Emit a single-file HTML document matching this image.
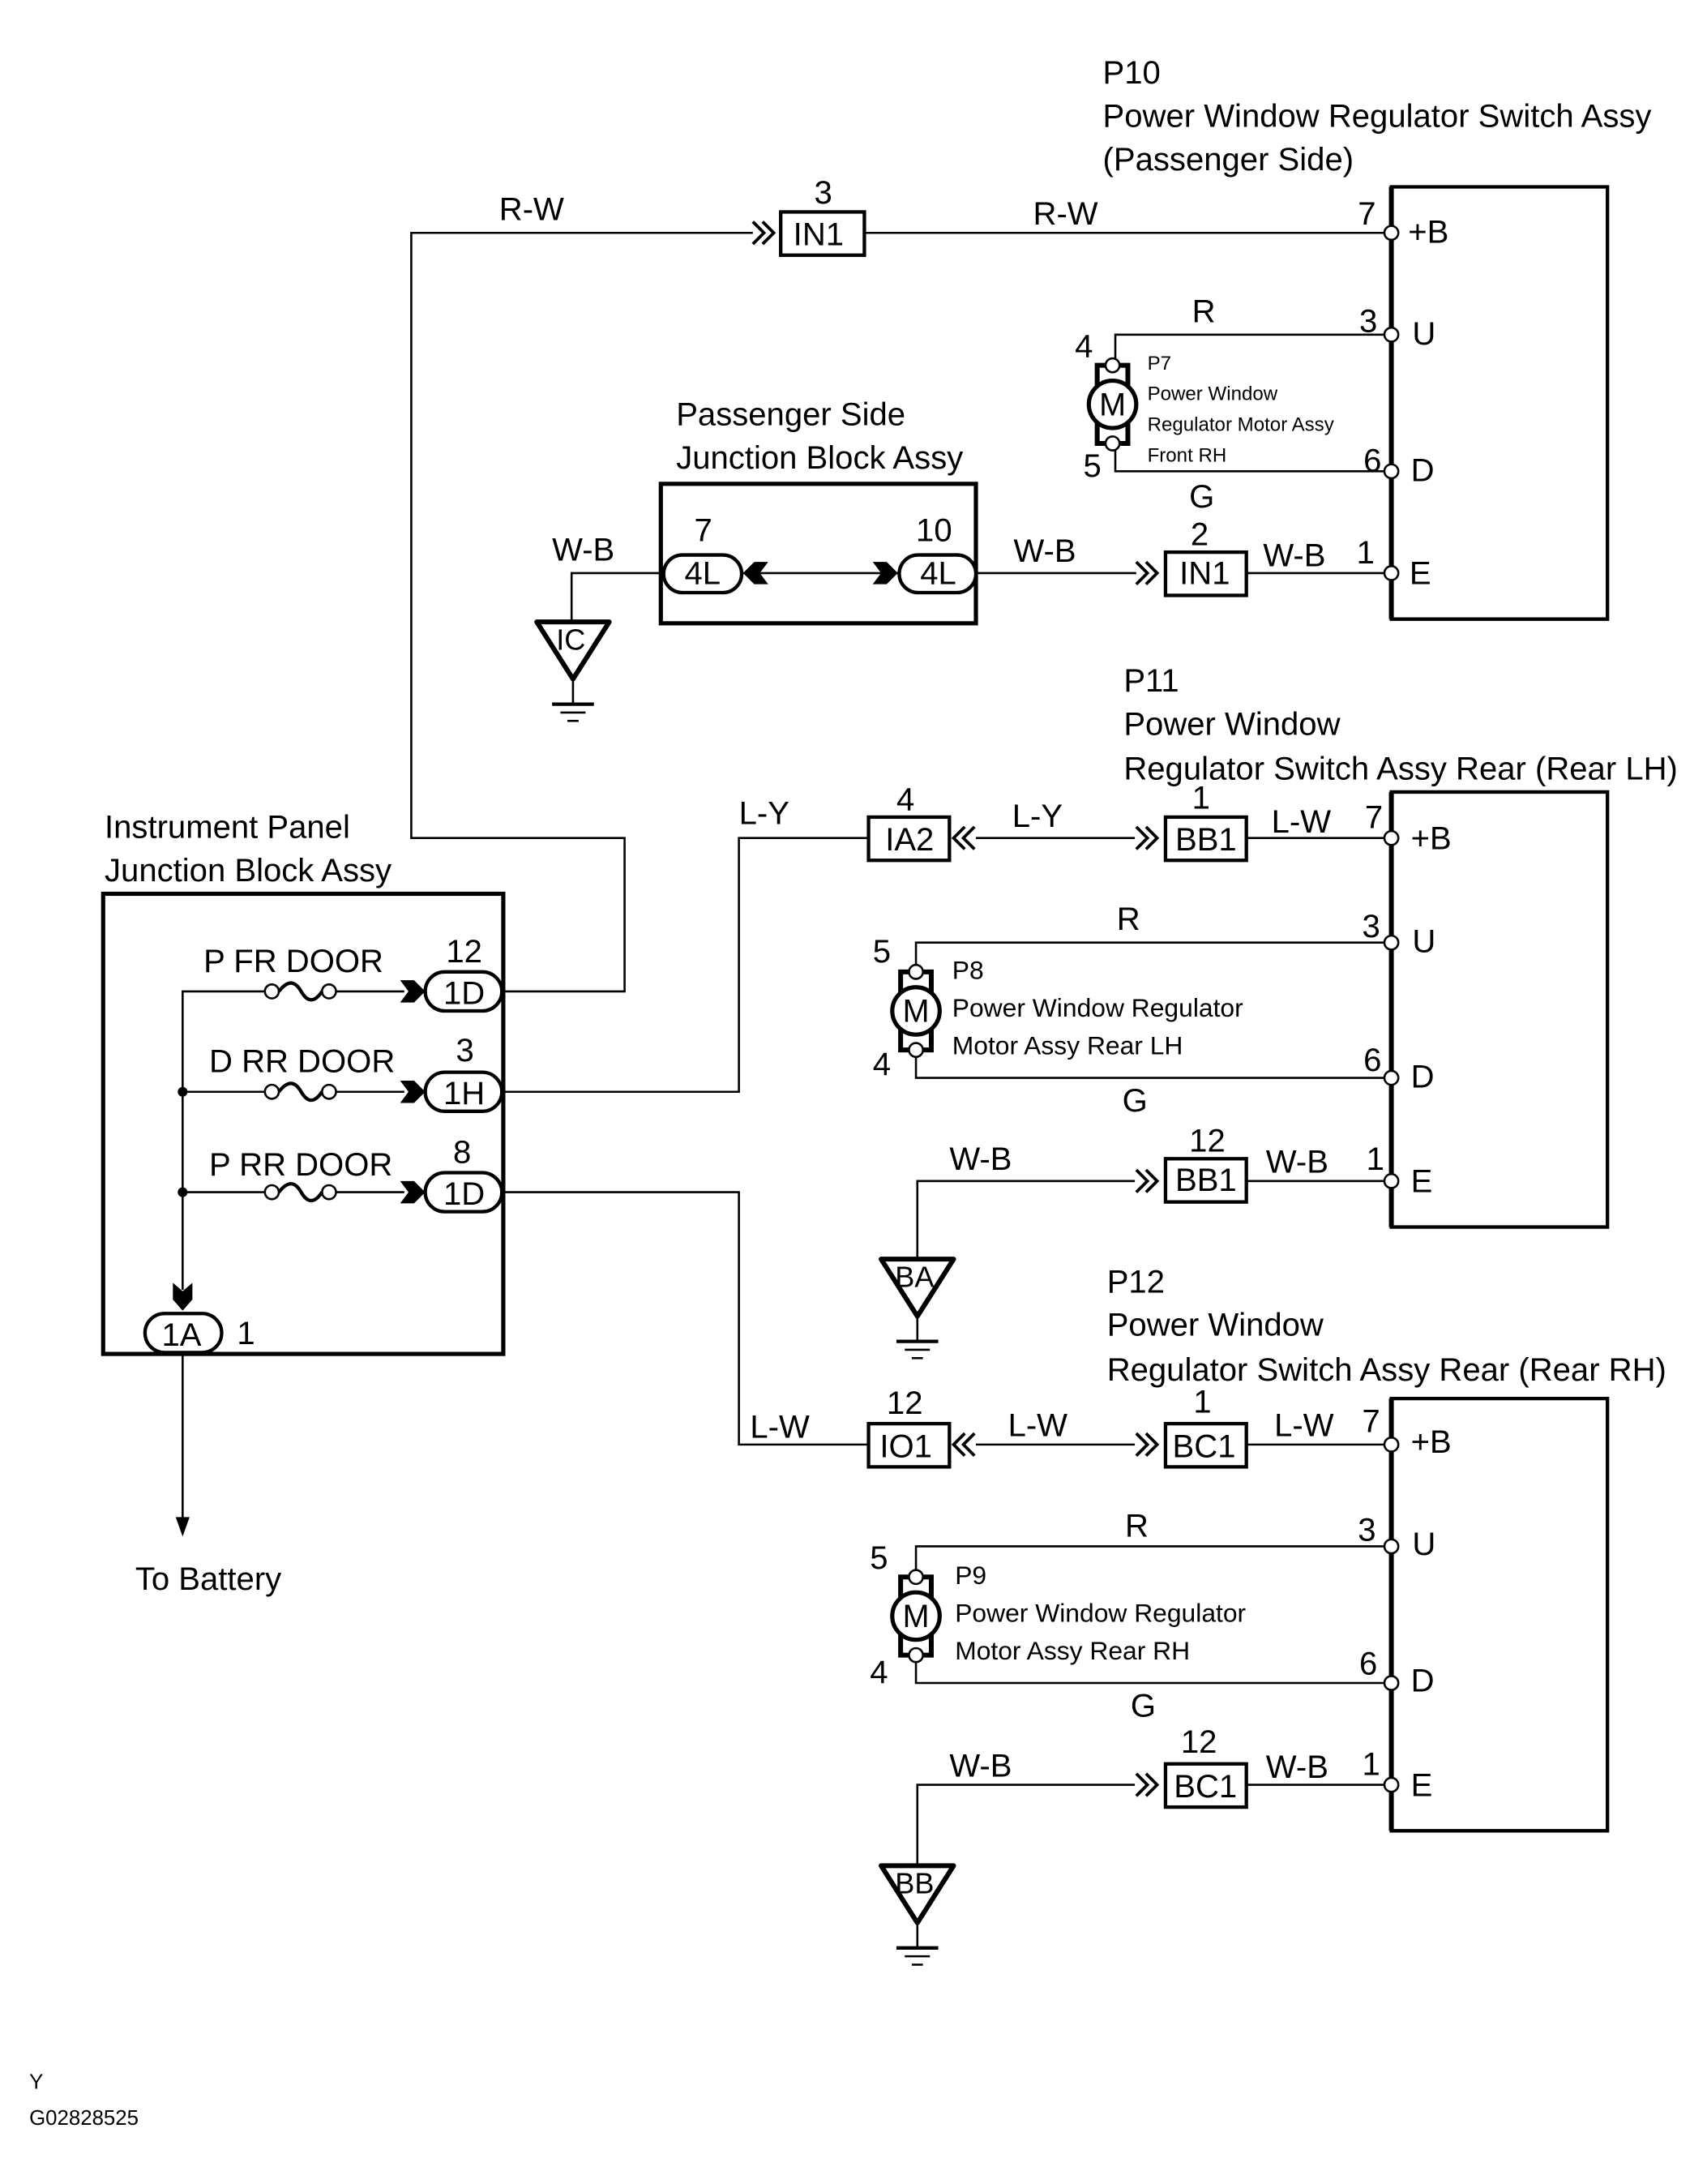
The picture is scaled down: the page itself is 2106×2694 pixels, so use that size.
<!DOCTYPE html>
<html><head><meta charset="utf-8"><style>
html,body{margin:0;padding:0;background:#fff;}
svg{display:block;}
text{font-family:"Liberation Sans",Arial,sans-serif;fill:#000;}
</style></head><body>
<svg width="2106" height="2694" viewBox="0 0 1224.4 1566.3" preserveAspectRatio="none" xmlns="http://www.w3.org/2000/svg">
<defs>
<g id="chev"><path d="M0,-8 L8,0 L0,8 M7,-8 L15,0 L7,8" fill="none" stroke="#000" stroke-width="2.2"/></g>
<g id="chevl"><path d="M15,-8 L7,0 L15,8 M8,-8 L0,0 L8,8" fill="none" stroke="#000" stroke-width="2.2"/></g>
<g id="farr"><polygon points="0,-8 10,-8 18,0 10,8 0,8 6,0" fill="#000"/></g>
<g id="farrl"><polygon points="18,-8 8,-8 0,0 8,8 18,8 12,0" fill="#000"/></g>
<g id="gnd">
<polygon points="-26,0 26,0 0,41" fill="none" stroke="#000" stroke-width="3.5" stroke-linejoin="round"/>
<line x1="0" y1="41" x2="0" y2="59" stroke="#000" stroke-width="1.5"/>
<line x1="-15" y1="59" x2="15" y2="59" stroke="#000" stroke-width="2.5"/>
<line x1="-9" y1="65" x2="9" y2="65" stroke="#000" stroke-width="1.5"/>
<line x1="-4" y1="71" x2="4" y2="71" stroke="#000" stroke-width="1.5"/>
</g>
<g id="motor">
<path d="M-11,-12 L-11,-28 L-5,-28 M5,-28 L11,-28 L11,-12 M-11,12 L-11,28 L-5,28 M5,28 L11,28 L11,12" fill="none" stroke="#000" stroke-width="3.5"/>
<circle cx="0" cy="0" r="17" fill="#fff" stroke="#000" stroke-width="3"/>
<text x="0" y="8" font-size="23" text-anchor="middle">M</text>
<circle cx="0" cy="-28" r="5" fill="#fff" stroke="#000" stroke-width="1.5"/>
<circle cx="0" cy="28" r="5" fill="#fff" stroke="#000" stroke-width="1.5"/>
</g>
</defs>

<g stroke="#000" fill="none">
<path d="M998,134 H1153 V444 H998 Z" stroke-width="2.5"/>
<line x1="998" y1="134" x2="998" y2="444" stroke-width="3.5"/>
<path d="M998,568 H1153 V880 H998 Z" stroke-width="2.5"/>
<line x1="998" y1="568" x2="998" y2="880" stroke-width="3.5"/>
<path d="M998,1003 H1153 V1313 H998 Z" stroke-width="2.5"/>
<line x1="998" y1="1003" x2="998" y2="1313" stroke-width="3.5"/>

<rect x="474" y="347" width="226" height="100" stroke-width="3"/>
<rect x="74" y="641" width="287" height="330" stroke-width="3"/>

<g stroke-width="1.5">
<polyline points="540,167 295,167 295,601 448,601 448,711 361,711"/>
<line x1="620" y1="167" x2="993" y2="167"/>
<polyline points="993,240 800,240 800,257"/>
<polyline points="800,322 800,338 993,338"/>
<polyline points="476,411 410,411 410,445"/>
<line x1="532" y1="411" x2="645" y2="411"/>
<line x1="700" y1="411" x2="815" y2="411"/>
<line x1="894" y1="411" x2="993" y2="411"/>
<polyline points="361,783 530,783 530,601 623,601"/>
<line x1="700" y1="601" x2="814" y2="601"/>
<line x1="894" y1="601" x2="993" y2="601"/>
<polyline points="993,676 657,676 657,692"/>
<polyline points="657,757 657,773 993,773"/>
<polyline points="658,903 658,847 814,847"/>
<line x1="894" y1="847" x2="993" y2="847"/>
<polyline points="361,855 530,855 530,1036 623,1036"/>
<line x1="700" y1="1036" x2="814" y2="1036"/>
<line x1="894" y1="1036" x2="993" y2="1036"/>
<polyline points="993,1109 657,1109 657,1126"/>
<polyline points="657,1191 657,1207 993,1207"/>
<polyline points="658,1338 658,1280 814,1280"/>
<line x1="894" y1="1280" x2="993" y2="1280"/>
<polyline points="190,711 131,711 131,925"/>
<line x1="131" y1="783" x2="190" y2="783"/>
<line x1="131" y1="855" x2="190" y2="855"/>
<line x1="241" y1="711" x2="290" y2="711"/>
<line x1="241" y1="783" x2="290" y2="783"/>
<line x1="241" y1="855" x2="290" y2="855"/>
<line x1="131" y1="971" x2="131" y2="1092"/>
</g>
<g stroke-width="1.5">
<circle cx="195" cy="711" r="5" fill="#fff"/><circle cx="236" cy="711" r="5" fill="#fff"/>
<circle cx="195" cy="783" r="5" fill="#fff"/><circle cx="236" cy="783" r="5" fill="#fff"/>
<circle cx="195" cy="855" r="5" fill="#fff"/><circle cx="236" cy="855" r="5" fill="#fff"/>
</g>
<g stroke-width="2.5">
<path d="M200,711 C207,702 212,704 216,711 C220,718 225,720 231,711"/>
<path d="M200,783 C207,774 212,776 216,783 C220,790 225,792 231,783"/>
<path d="M200,855 C207,846 212,848 216,855 C220,862 225,864 231,855"/>
</g>
<g stroke-width="1.5" fill="#fff">
<circle cx="998" cy="167" r="5"/><circle cx="998" cy="240" r="5"/><circle cx="998" cy="338" r="5"/><circle cx="998" cy="411" r="5"/>
<circle cx="998" cy="601" r="5"/><circle cx="998" cy="676" r="5"/><circle cx="998" cy="773" r="5"/><circle cx="998" cy="847" r="5"/>
<circle cx="998" cy="1036" r="5"/><circle cx="998" cy="1109" r="5"/><circle cx="998" cy="1207" r="5"/><circle cx="998" cy="1280" r="5"/>
</g>
<g stroke-width="2.5" fill="#fff">
<rect x="560" y="152" width="60" height="31"/>
<rect x="836" y="396" width="58" height="31"/>
<rect x="623" y="586" width="58" height="31"/>
<rect x="836" y="586" width="58" height="31"/>
<rect x="836" y="831" width="58" height="31"/>
<rect x="623" y="1021" width="58" height="31"/>
<rect x="836" y="1021" width="58" height="31"/>
<rect x="836" y="1265" width="58" height="31"/>
</g>
<g stroke-width="2.5" fill="#fff">
<rect x="476" y="398" width="56" height="27" rx="13.5"/>
<rect x="645" y="398" width="55" height="27" rx="13.5"/>
<rect x="305" y="697" width="55" height="28" rx="14"/>
<rect x="305" y="769" width="55" height="28" rx="14"/>
<rect x="305" y="841" width="55" height="28" rx="14"/>
<rect x="104" y="942" width="55" height="28" rx="14"/>
</g>
</g>
<circle cx="131" cy="783" r="3.5" fill="#000"/>
<circle cx="131" cy="855" r="3.5" fill="#000"/>
<polygon points="124,920 124,932 131,940 138,932 138,920 131,926" fill="#000"/>
<polygon points="126,1088 131,1102 136,1088" fill="#000"/>

<use href="#chev" x="540" y="167"/>
<use href="#chev" x="815" y="411"/>
<use href="#chev" x="815" y="601"/>
<use href="#chev" x="815" y="847"/>
<use href="#chev" x="815" y="1036"/>
<use href="#chev" x="815" y="1280"/>
<use href="#chevl" x="684" y="601"/>
<use href="#chevl" x="684" y="1036"/>
<use href="#farrl" x="533" y="411"/>
<use href="#farr" x="626" y="411"/>
<use href="#farr" x="287" y="711"/>
<use href="#farr" x="287" y="783"/>
<use href="#farr" x="287" y="855"/>

<use href="#motor" x="798" y="290"/>
<use href="#motor" x="657" y="725"/>
<use href="#motor" x="657" y="1159"/>

<use href="#gnd" x="411" y="446"/>
<use href="#gnd" x="658" y="903"/>
<use href="#gnd" x="658" y="1338"/>

<g font-size="23.3">
<text x="791" y="60">P10</text>
<text x="791" y="91">Power Window Regulator Switch Assy</text>
<text x="791" y="122">(Passenger Side)</text>
<text x="358" y="158">R-W</text>
<text x="584" y="146">3</text>
<text x="569" y="176">IN1</text>
<text x="741" y="161">R-W</text>
<text x="974" y="161">7</text>
<text x="1010" y="174">+B</text>
<text x="855" y="231">R</text>
<text x="975" y="238">3</text>
<text x="1013" y="247">U</text>
<text x="771" y="256">4</text>
<text x="777" y="342">5</text>
<text x="978" y="338">6</text>
<text x="1012" y="345">D</text>
<text x="853" y="364">G</text>
<text x="485" y="305">Passenger Side</text>
<text x="485" y="336">Junction Block Assy</text>
<text x="396" y="402">W-B</text>
<text x="498" y="388">7</text>
<text x="657" y="388">10</text>
<text x="491" y="419">4L</text>
<text x="660" y="419">4L</text>
<text x="399" y="466" font-size="21">IC</text>
<text x="727" y="403">W-B</text>
<text x="854" y="391">2</text>
<text x="846" y="419">IN1</text>
<text x="906" y="406">W-B</text>
<text x="973" y="404">1</text>
<text x="1011" y="419">E</text>

<text x="806" y="496">P11</text>
<text x="806" y="527">Power Window</text>
<text x="806" y="559">Regulator Switch Assy Rear (Rear LH)</text>
<text x="530" y="591">L-Y</text>
<text x="643" y="581">4</text>
<text x="635" y="610">IA2</text>
<text x="726" y="593">L-Y</text>
<text x="855" y="580">1</text>
<text x="843" y="610">BB1</text>
<text x="912" y="597">L-W</text>
<text x="979" y="594">7</text>
<text x="1012" y="609">+B</text>
<text x="801" y="667">R</text>
<text x="977" y="672">3</text>
<text x="1013" y="683">U</text>
<text x="626" y="690">5</text>
<text x="626" y="771">4</text>
<text x="978" y="768">6</text>
<text x="1012" y="780">D</text>
<text x="805" y="797">G</text>
<text x="681" y="839">W-B</text>
<text x="853" y="826">12</text>
<text x="843" y="854">BB1</text>
<text x="908" y="841">W-B</text>
<text x="980" y="839">1</text>
<text x="1012" y="855">E</text>
<text x="642" y="923" font-size="21">BA</text>

<text x="794" y="927">P12</text>
<text x="794" y="958">Power Window</text>
<text x="794" y="990">Regulator Switch Assy Rear (Rear RH)</text>
<text x="538" y="1031">L-W</text>
<text x="636" y="1014">12</text>
<text x="631" y="1045">IO1</text>
<text x="723" y="1030">L-W</text>
<text x="856" y="1013">1</text>
<text x="841" y="1045">BC1</text>
<text x="914" y="1030">L-W</text>
<text x="977" y="1027">7</text>
<text x="1012" y="1042">+B</text>
<text x="807" y="1102">R</text>
<text x="974" y="1105">3</text>
<text x="1013" y="1115">U</text>
<text x="624" y="1125">5</text>
<text x="624" y="1207">4</text>
<text x="975" y="1201">6</text>
<text x="1012" y="1213">D</text>
<text x="811" y="1231">G</text>
<text x="681" y="1274">W-B</text>
<text x="847" y="1257">12</text>
<text x="842" y="1289">BC1</text>
<text x="908" y="1275">W-B</text>
<text x="977" y="1273">1</text>
<text x="1012" y="1288">E</text>
<text x="642" y="1358" font-size="21">BB</text>

<text x="75" y="601">Instrument Panel</text>
<text x="75" y="632">Junction Block Assy</text>
<text x="146" y="697">P FR DOOR</text>
<text x="320" y="690">12</text>
<text x="318" y="720">1D</text>
<text x="150" y="769">D RR DOOR</text>
<text x="327" y="761">3</text>
<text x="318" y="792">1H</text>
<text x="150" y="843">P RR DOOR</text>
<text x="325" y="834">8</text>
<text x="318" y="864">1D</text>
<text x="116" y="965">1A</text>
<text x="170" y="964">1</text>
<text x="97" y="1140">To Battery</text>
</g>
<g font-size="14">
<text x="823" y="265">P7</text>
<text x="823" y="287">Power Window</text>
<text x="823" y="309">Regulator Motor Assy</text>
<text x="823" y="331">Front RH</text>
</g>
<g font-size="18.5">
<text x="683" y="702">P8</text>
<text x="683" y="729">Power Window Regulator</text>
<text x="683" y="756">Motor Assy Rear LH</text>
<text x="685" y="1136">P9</text>
<text x="685" y="1163">Power Window Regulator</text>
<text x="685" y="1190">Motor Assy Rear RH</text>
</g>
<g font-size="15">
<text x="21" y="1498">Y</text>
<text x="21" y="1524">G02828525</text>
</g>
</svg>
</body></html>
